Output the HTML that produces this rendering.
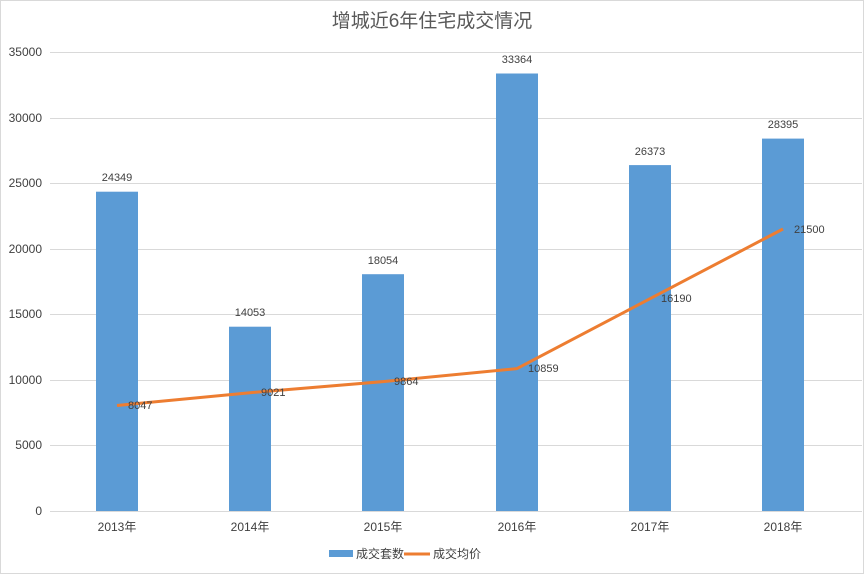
<!DOCTYPE html>
<html><head><meta charset="utf-8"><style>
body{margin:0;background:#fff}
svg{display:block}
text{font-family:"Liberation Sans","Noto Sans CJK SC",sans-serif;fill:#404040}
</style></head><body>
<svg width="864" height="574" xmlns="http://www.w3.org/2000/svg">
<rect x="0.5" y="0.5" width="863" height="573" fill="#fff" stroke="#d9d9d9"/>
<text x="432" y="27" font-size="19" text-anchor="middle" fill="#595959" style="fill:#595959">增城近6年住宅成交情况</text>
<g stroke="#d9d9d9" stroke-width="1">
<line x1="50" x2="862" y1="52.5" y2="52.5"/>
<line x1="50" x2="862" y1="118.5" y2="118.5"/>
<line x1="50" x2="862" y1="183.5" y2="183.5"/>
<line x1="50" x2="862" y1="249.5" y2="249.5"/>
<line x1="50" x2="862" y1="314.5" y2="314.5"/>
<line x1="50" x2="862" y1="380.5" y2="380.5"/>
<line x1="50" x2="862" y1="445.5" y2="445.5"/>
<line x1="50" x2="862" y1="511.5" y2="511.5"/>
</g>
<g font-size="12" text-anchor="end">
<text x="42" y="56">35000</text><text x="42" y="122">30000</text><text x="42" y="187">25000</text>
<text x="42" y="253">20000</text><text x="42" y="318">15000</text><text x="42" y="384">10000</text>
<text x="42" y="449">5000</text><text x="42" y="515">0</text>
</g>
<g fill="#5b9bd5">
<rect x="96" y="191.7" width="42" height="319.3"/>
<rect x="229" y="326.7" width="42" height="184.3"/>
<rect x="362" y="274.2" width="42" height="236.8"/>
<rect x="496" y="73.5" width="42" height="437.5"/>
<rect x="629" y="165.1" width="42" height="345.9"/>
<rect x="762" y="138.6" width="42" height="372.4"/>
</g>
<g font-size="11" text-anchor="middle">
<text x="117" y="181">24349</text><text x="250" y="316">14053</text><text x="383" y="264">18054</text>
<text x="517" y="63">33364</text><text x="650" y="155">26373</text><text x="783" y="128">28395</text>
</g>
<polyline points="117,405.5 250,392.7 383,381.6 517,368.6 650,298.7 783,229" fill="none" stroke="#ed7d31" stroke-width="3" stroke-linejoin="round"/>
<g font-size="11">
<text x="128" y="409">8047</text><text x="261" y="396">9021</text><text x="394" y="385">9864</text>
<text x="528" y="372">10859</text><text x="661" y="302">16190</text><text x="794" y="233">21500</text>
</g>
<g font-size="12" text-anchor="middle">
<text x="117" y="531">2013年</text><text x="250" y="531">2014年</text><text x="383" y="531">2015年</text>
<text x="517" y="531">2016年</text><text x="650" y="531">2017年</text><text x="783" y="531">2018年</text>
</g>
<rect x="329" y="550" width="24" height="7" fill="#5b9bd5"/>
<text x="356" y="558" font-size="12">成交套数</text>
<line x1="404" x2="430" y1="554" y2="554" stroke="#ed7d31" stroke-width="3"/>
<text x="433" y="558" font-size="12">成交均价</text>
</svg>
</body></html>
